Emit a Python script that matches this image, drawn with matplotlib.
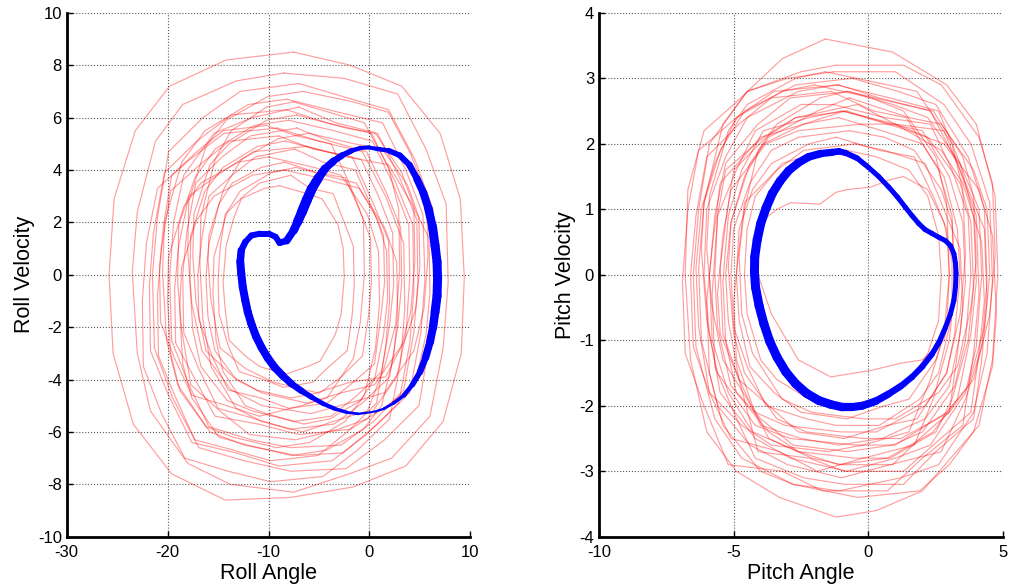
import numpy as np
import matplotlib
matplotlib.use('Agg')
import matplotlib.pyplot as plt
from matplotlib.collections import LineCollection

plt.rcParams['font.family'] = ['Liberation Sans', 'DejaVu Sans']
plt.rcParams['axes.unicode_minus'] = False

# roll: red trajectory loops (clockwise from the top)
roll_red_x = [
    [-7.5, -1.9, 3.2, 7.0, 9.0, 9.4, 9.1, 7.3, 3.6, -1.6, -7.8, -14.3, -19.6, -23.4, -25.4, -25.8, -25.3, -23.2, -19.8, -14.2],
    [-8.5, -2.5, 2.8, 5.6, 7.6, 7.8, 7.3, 6.0, 2.2, -2.0, -7.5, -13.8, -18.0, -21.7, -23.0, -23.5, -23.0, -21.2, -18.5, -13.2],
    [-7.0, -2.6, 1.9, 4.5, 6.3, 6.5, 6.0, 4.9, 1.5, -2.3, -7.8, -12.4, -16.9, -19.5, -21.3, -21.5, -21.0, -19.9, -16.5, -12.8],
    [-8.2, -3.0, 1.3, 3.6, 5.3, 5.5, 5.1, 4.0, 0.8, -2.6, -7.2, -12.4, -15.8, -19.0, -20.1, -20.5, -20.3, -18.6, -16.3, -12.0],
    [-7.0, -3.3, 0.8, 3.0, 4.7, 4.8, 4.4, 3.4, 0.4, -2.8, -7.8, -11.7, -15.9, -18.0, -19.6, -19.8, -19.4, -18.4, -15.4, -11.6],
    [-8.0, -3.5, 0.3, 2.3, 3.9, 4.0, 3.6, 2.7, -0.2, -3.1, -7.3, -11.9, -14.8, -17.7, -18.6, -19.0, -18.9, -17.3, -15.3, -11.4],
    [-7.2, -3.9, -0.3, 1.6, 3.1, 3.2, 2.8, 2.0, -0.7, -3.5, -7.9, -11.3, -15.0, -16.9, -18.4, -18.5, -18.1, -17.2, -14.6, -11.8],
    [-8.3, -4.2, -0.8, 0.9, 2.3, 2.4, 2.0, 1.2, -1.2, -3.8, -7.5, -11.6, -14.1, -16.7, -17.5, -17.8, -17.7, -16.3, -14.5, -11.1],
    [-7.4, -4.6, -1.4, 0.1, 1.4, 1.5, 1.1, 0.5, -1.9, -4.2, -8.0, -10.8, -14.0, -15.6, -16.9, -17.0, -16.6, -15.9, -13.6, -11.3],
    [-8.4, -5.2, -2.4, -1.0, 0.1, 0.2, -0.1, -0.7, -2.8, -4.9, -7.8, -11.2, -13.2, -15.3, -16.0, -16.2, -15.9, -14.9, -13.6, -10.7],
    [-7.8, -5.9, -3.6, -2.5, -1.6, -1.5, -1.7, -2.2, -4.0, -5.6, -8.5, -10.5, -12.9, -14.0, -14.9, -15.0, -14.8, -14.3, -12.5, -10.9],
    [-8.9, -6.2, -4.7, -3.1, -2.6, -2.5, -2.8, -3.4, -4.9, -6.1, -8.3, -10.9, -12.3, -13.9, -14.3, -14.5, -14.2, -13.5, -12.7, -10.4],
    [-9.0, -5.6, -1.7, 0.3, 1.9, 2.0, 1.6, 0.7, -2.2, -5.1, -9.8, -13.4, -17.3, -19.3, -20.9, -21.0, -20.6, -19.7, -16.8, -13.9],
    [-6.6, -1.6, 1.9, 4.1, 5.7, 5.8, 5.4, 4.4, 1.5, -2.0, -5.8, -10.6, -13.7, -16.6, -17.6, -18.0, -17.9, -16.2, -14.2, -10.1],
    [-10.0, -5.5, -2.8, -0.2, 0.9, 1.0, 0.6, -0.5, -2.4, -5.9, -9.2, -13.5, -16.2, -18.8, -19.7, -20.0, -19.9, -18.4, -16.7, -13.0],
    [-7.2, -2.3, 0.6, 3.2, 4.4, 4.5, 4.1, 3.2, 0.5, -2.7, -6.2, -10.7, -13.5, -16.2, -17.2, -17.5, -17.4, -15.8, -13.9, -10.2],
    [-9.1, -5.0, -0.7, 1.6, 3.4, 3.5, 3.1, 2.0, -1.2, -4.6, -9.8, -14.0, -18.3, -20.6, -22.4, -22.5, -22.1, -21.0, -17.8, -14.4],
    [-6.2, -2.3, 1.9, 4.2, 5.9, 6.0, 5.6, 4.5, 1.4, -1.9, -7.0, -11.0, -15.3, -17.4, -19.2, -19.3, -18.9, -17.9, -14.7, -11.5],
    [-7.5, -3.1, -0.5, 1.9, 2.9, 3.0, 2.6, 1.5, -0.2, -3.6, -6.6, -10.7, -13.2, -15.7, -16.5, -16.8, -16.7, -15.3, -13.7, -10.2],
    [-10.2, -7.2, -3.8, -2.0, -0.6, -0.5, -0.9, -1.6, -4.2, -6.8, -10.9, -14.1, -17.6, -19.3, -20.7, -20.8, -20.4, -19.6, -17.1, -14.5],
    [-8.4, -3.9, -1.0, 1.5, 2.7, 2.8, 2.4, 1.2, -0.6, -4.3, -7.7, -12.1, -14.9, -17.6, -18.5, -18.8, -18.6, -17.1, -15.4, -11.6],
    [-6.0, -1.5, 1.3, 3.8, 4.9, 5.0, 4.6, 3.5, 1.6, -1.9, -5.2, -9.5, -12.2, -14.8, -15.7, -16.0, -15.9, -14.4, -12.7, -9.0],
    [-8.2, -4.2, 0.2, 2.5, 4.3, 4.4, 4.0, 2.9, -0.3, -3.7, -9.0, -13.2, -17.6, -19.9, -21.7, -21.8, -21.4, -20.3, -17.1, -13.7],
    [-7.3, -3.5, -1.3, 0.8, 1.7, 1.8, 1.4, 0.5, -0.9, -3.9, -6.5, -10.2, -12.3, -14.5, -15.2, -15.5, -15.4, -14.1, -12.8, -9.7],
]
roll_red_y = [
    [8.5, 8.0, 7.2, 5.4, 2.9, -0.1, -3.0, -5.6, -7.3, -8.1, -8.5, -8.6, -7.6, -5.7, -3.0, 0.0, 2.9, 5.5, 7.2, 8.2],
    [7.7, 7.5, 6.9, 4.8, 2.7, -0.3, -2.8, -5.4, -7.0, -7.6, -8.3, -8.0, -7.2, -5.2, -3.0, 0.1, 2.4, 5.1, 6.5, 7.4],
    [7.3, 6.8, 6.3, 4.4, 2.5, -0.3, -2.5, -5.0, -6.3, -7.4, -7.5, -7.1, -6.6, -4.7, -2.8, 0.0, 2.2, 4.7, 6.0, 7.0],
    [6.7, 6.2, 5.8, 4.0, 2.3, -0.2, -2.2, -4.5, -5.7, -6.8, -6.9, -6.5, -6.0, -4.2, -2.5, 0.1, 2.0, 4.3, 5.5, 6.5],
    [6.4, 5.8, 5.4, 3.7, 2.1, -0.3, -2.2, -4.4, -5.6, -6.5, -6.6, -6.3, -5.8, -4.1, -2.5, -0.1, 2.0, 3.8, 5.4, 6.0],
    [5.9, 5.5, 5.1, 3.5, 1.9, -0.1, -2.3, -3.9, -5.5, -5.9, -6.3, -6.1, -5.2, -4.2, -2.1, -0.3, 1.9, 3.7, 4.8, 5.7],
    [5.6, 5.1, 4.7, 3.2, 1.8, -0.3, -2.0, -3.9, -4.9, -5.7, -5.9, -5.5, -5.1, -3.6, -2.2, 0.0, 1.6, 3.5, 4.5, 5.3],
    [5.1, 4.7, 4.4, 3.0, 1.6, -0.4, -1.9, -3.7, -4.6, -5.4, -5.6, -5.2, -4.8, -3.5, -2.1, -0.2, 1.5, 3.2, 4.1, 4.9],
    [4.8, 4.3, 4.0, 2.7, 1.5, -0.3, -1.7, -3.4, -4.2, -4.9, -5.1, -4.7, -4.4, -3.1, -1.7, 0.0, 1.4, 3.0, 3.8, 4.5],
    [4.3, 3.9, 3.7, 2.5, 1.4, -0.3, -1.6, -3.1, -3.9, -4.5, -4.7, -4.4, -4.0, -2.9, -1.6, -0.1, 1.2, 2.7, 3.5, 4.1],
    [3.8, 3.3, 3.1, 2.0, 1.1, -0.4, -1.5, -2.9, -3.5, -4.1, -4.3, -4.0, -3.7, -2.7, -1.5, -0.2, 1.0, 2.3, 3.0, 3.5],
    [3.4, 3.1, 2.9, 1.9, 1.0, -0.1, -1.5, -2.3, -3.3, -3.5, -3.8, -3.5, -3.1, -2.5, -1.3, -0.3, 1.1, 2.1, 2.9, 3.3],
    [5.3, 4.8, 4.5, 2.8, 1.3, -1.0, -2.8, -4.9, -6.0, -6.9, -7.1, -6.7, -6.3, -4.6, -3.1, -0.8, 1.0, 3.2, 4.2, 5.1],
    [7.0, 6.6, 6.2, 4.6, 3.0, 0.7, -1.3, -2.9, -4.5, -4.9, -5.3, -5.0, -4.4, -2.9, -1.1, 0.9, 2.8, 4.9, 5.9, 6.8],
    [4.5, 4.1, 3.8, 2.3, 0.9, -1.1, -2.8, -4.6, -5.6, -6.4, -6.6, -6.2, -5.8, -4.4, -3.0, -1.0, 0.7, 2.6, 3.5, 4.3],
    [6.1, 5.6, 5.4, 3.9, 2.6, 0.5, -1.4, -2.7, -4.2, -4.5, -4.9, -4.5, -3.9, -2.9, -1.0, 0.7, 2.3, 4.2, 5.0, 5.9],
    [5.6, 5.1, 4.7, 3.0, 1.2, -1.3, -3.3, -5.5, -6.7, -7.7, -7.9, -7.5, -7.0, -5.3, -3.5, -1.0, 1.2, 3.3, 4.4, 5.4],
    [4.9, 4.5, 4.2, 2.7, 1.4, -0.7, -2.3, -4.2, -5.1, -5.9, -6.1, -5.7, -5.4, -3.9, -2.6, -0.5, 1.1, 3.0, 3.9, 4.7],
    [6.6, 6.1, 5.8, 4.1, 2.5, 0.2, -1.9, -3.5, -5.2, -5.6, -6.0, -5.6, -5.1, -3.5, -1.7, 0.4, 2.2, 4.4, 5.5, 6.4],
    [5.7, 5.3, 5.0, 3.5, 2.1, 0.0, -1.8, -3.2, -4.7, -5.0, -5.4, -5.0, -4.6, -3.2, -1.8, 0.3, 1.9, 3.8, 4.7, 5.5],
    [4.0, 3.6, 3.3, 1.8, 0.5, -1.5, -3.1, -5.0, -5.9, -6.7, -6.9, -6.5, -6.2, -4.7, -3.4, -1.3, 0.3, 2.1, 3.0, 3.8],
    [5.4, 5.0, 4.8, 3.4, 2.2, 0.3, -1.3, -2.5, -3.9, -4.1, -4.5, -4.1, -3.6, -2.8, -1.0, 0.6, 1.5, 3.3, 4.4, 5.2],
    [6.3, 5.8, 5.4, 3.6, 1.9, -0.6, -2.6, -4.9, -6.1, -7.1, -7.3, -6.8, -6.4, -4.6, -2.9, -0.4, 1.6, 3.9, 5.1, 6.1],
    [4.1, 3.7, 3.5, 2.1, 0.9, -0.9, -2.3, -4.0, -4.8, -5.5, -5.7, -5.3, -5.0, -3.7, -2.5, -0.7, 0.7, 2.4, 3.2, 3.9],
]

# roll: blue limit cycle
roll_blue_x = [-0.9, -0.1, 0.7, 1.9, 3.0, 3.95, 4.7, 5.35, 5.85, 6.25, 6.5, 6.7, 6.75, 6.7, 6.5, 6.3, 6.0, 5.55,
               5.0, 4.25, 3.4, 2.4, 1.4, 0.55, -0.3, -1.1, -2.25, -3.4, -4.55, -5.7, -6.7, -7.7, -8.55, -9.4,
               -10.08, -10.7, -11.25, -11.7, -12.05, -12.3, -12.55, -12.7, -12.8, -12.7, -12.3, -11.7, -10.85,
               -10.0, -9.3, -8.9, -8.2, -7.5, -7.1, -6.7, -6.2, -5.7, -5.05, -4.4, -3.55, -2.7, -1.8, -0.9]
roll_blue_y = [4.84, 4.86, 4.81, 4.74, 4.56, 4.2, 3.67, 3.12, 2.52, 1.83, 1.12, 0.49, -0.15, -0.8, -1.43, -2.0,
               -2.57, -3.17, -3.72, -4.2, -4.61, -4.9, -5.12, -5.22, -5.27, -5.31, -5.25, -5.12, -4.93, -4.68,
               -4.44, -4.17, -3.87, -3.53, -3.17, -2.77, -2.34, -1.87, -1.43, -0.98, -0.47, 0.04, 0.5, 0.93, 1.25,
               1.5, 1.57, 1.57, 1.45, 1.22, 1.3, 1.7, 2.03, 2.39, 2.86, 3.29, 3.7, 4.05, 4.34, 4.56, 4.73, 4.84]

# pitch: red trajectory loops
pitch_red_x = [
    [-1.6, 0.9, 2.9, 4.0, 4.7, 4.8, 4.6, 4.1, 2.0, 0.3, -1.2, -3.3, -4.9, -6.0, -6.6, -6.8, -6.7, -6.1, -5.0, -3.2],
    [-1.3, 1.0, 2.8, 3.8, 4.5, 4.6, 4.4, 3.9, 2.6, 1.2, -1.1, -2.8, -4.7, -5.7, -6.4, -6.5, -6.3, -5.9, -4.5, -3.0],
    [-0.6, 1.1, 2.5, 3.7, 4.3, 4.4, 4.2, 3.6, 2.7, 0.8, -1.0, -3.0, -4.4, -5.6, -6.2, -6.3, -6.1, -5.5, -4.6, -2.7],
    [-1.2, 0.8, 2.6, 3.4, 4.1, 4.2, 4.0, 3.6, 2.3, 1.0, -0.8, -2.9, -4.2, -5.5, -5.9, -6.1, -6.0, -5.3, -4.5, -2.6],
    [-0.7, 0.9, 2.2, 3.4, 3.9, 4.0, 3.8, 3.3, 2.4, 0.7, -1.1, -2.6, -4.3, -5.2, -5.8, -5.9, -5.7, -5.3, -4.1, -2.9],
    [-1.3, 0.6, 2.3, 3.1, 3.7, 3.8, 3.6, 3.2, 2.0, 0.9, -0.8, -2.8, -4.0, -5.1, -5.6, -5.7, -5.6, -4.9, -4.2, -2.5],
    [-0.8, 0.8, 2.0, 3.0, 3.5, 3.6, 3.4, 3.0, 2.1, 0.5, -1.1, -2.5, -4.0, -4.8, -5.4, -5.5, -5.3, -5.0, -3.8, -2.7],
    [-1.1, 0.5, 2.0, 2.8, 3.3, 3.4, 3.2, 2.9, 1.8, 0.7, -0.9, -2.6, -3.7, -4.8, -5.2, -5.3, -5.1, -4.6, -3.9, -2.4],
    [-0.7, 0.6, 1.7, 2.7, 3.1, 3.2, 3.0, 2.6, 1.9, 0.4, -1.2, -2.3, -3.8, -4.5, -5.0, -5.1, -5.0, -4.4, -3.6, -2.6],
    [-1.2, 0.4, 1.7, 2.4, 2.9, 3.0, 2.9, 2.5, 1.5, 0.6, -0.8, -2.5, -3.5, -4.4, -4.8, -4.9, -4.8, -4.3, -3.6, -2.2],
    [-0.8, 0.3, 1.5, 2.2, 2.6, 2.7, 2.6, 2.2, 1.4, 0.5, -1.1, -2.2, -3.4, -4.0, -4.5, -4.6, -4.5, -4.2, -3.2, -2.4],
    [-0.8, 0.1, 0.7, 1.3, 2.2, 2.8, 3.1, 3.1, 2.8, 2.0, 1.2, 0.1, -1.4, -2.6, -3.6, -4.1, -4.3, -4.0, -3.4, -2.9, -1.8, -1.2],
    [-1.6, 0.7, 1.8, 3.1, 3.5, 3.6, 3.4, 2.9, 2.1, 0.3, -1.0, -3.1, -4.2, -5.4, -5.8, -6.0, -5.9, -5.2, -4.5, -2.7],
    [-0.3, 1.0, 2.7, 3.5, 4.2, 4.3, 4.1, 3.8, 2.4, 1.3, -0.9, -2.2, -4.1, -4.8, -5.5, -5.6, -5.4, -5.1, -3.8, -2.6],
    [-1.4, 0.2, 1.4, 2.6, 3.1, 3.2, 3.0, 2.4, 1.7, -0.2, -1.9, -3.3, -5.1, -5.9, -6.5, -6.6, -6.4, -6.0, -4.8, -3.6],
    [-0.7, 1.5, 2.7, 3.9, 4.4, 4.5, 4.3, 3.7, 3.0, 1.2, -0.2, -2.3, -3.4, -4.6, -5.0, -5.2, -5.1, -4.4, -3.7, -1.9],
    [-1.1, 0.4, 2.3, 3.3, 4.0, 4.1, 3.9, 3.5, 2.0, 0.7, -1.7, -3.2, -5.2, -6.1, -6.8, -6.9, -6.7, -6.3, -4.9, -3.5],
    [-1.0, 1.0, 2.2, 3.4, 3.8, 3.9, 3.7, 3.1, 2.5, 0.8, -0.5, -2.6, -3.7, -4.9, -5.3, -5.4, -5.2, -4.7, -3.9, -2.2],
    [-1.2, 1.3, 2.7, 4.1, 4.6, 4.7, 4.5, 3.9, 2.9, 1.0, -0.5, -2.9, -4.2, -5.6, -6.0, -6.2, -6.1, -5.4, -4.5, -2.5],
    [-0.5, 0.6, 2.1, 2.8, 3.4, 3.5, 3.3, 3.0, 1.9, 0.9, -1.0, -2.1, -3.7, -4.3, -4.9, -5.0, -4.8, -4.6, -3.4, -2.4],
    [-2.0, 0.1, 1.3, 2.5, 2.9, 3.0, 2.8, 2.3, 1.5, -0.2, -1.5, -3.6, -4.7, -5.9, -6.3, -6.4, -6.2, -5.7, -4.9, -3.2],
    [-0.4, 1.0, 2.8, 3.6, 4.3, 4.4, 4.2, 3.9, 2.5, 1.3, -0.9, -2.4, -4.2, -5.0, -5.7, -5.8, -5.6, -5.3, -3.9, -2.7],
    [-0.8, 1.3, 2.4, 3.5, 3.9, 4.0, 3.8, 3.3, 2.6, 1.0, -0.2, -2.1, -3.2, -4.3, -4.7, -4.8, -4.6, -4.1, -3.4, -1.8],
    [-0.9, 1.5, 2.8, 4.1, 4.6, 4.75, 4.6, 3.9, 3.0, 1.9, -0.4, -2.8, -4.0, -5.4, -5.9, -6.0, -5.8, -5.5, -4.0, -2.4],
]
pitch_red_y = [
    [3.6, 3.4, 2.9, 2.3, 1.2, 0.0, -1.3, -2.3, -3.3, -3.6, -3.7, -3.4, -3.0, -2.4, -1.3, 0.0, 1.3, 2.2, 2.6, 3.3],
    [3.1, 3.1, 2.6, 2.0, 1.1, -0.1, -1.2, -2.1, -2.9, -3.1, -3.3, -3.2, -2.8, -2.2, -1.1, 0.0, 1.0, 2.0, 2.8, 3.0],
    [3.0, 2.8, 2.6, 1.8, 1.0, -0.1, -1.1, -1.9, -2.7, -2.9, -3.1, -2.9, -2.6, -2.0, -1.0, 0.1, 1.1, 1.9, 2.5, 2.9],
    [2.9, 2.7, 2.5, 1.7, 1.0, 0.0, -1.1, -1.8, -2.6, -2.8, -3.0, -2.8, -2.5, -1.8, -0.9, 0.0, 1.0, 1.8, 2.4, 2.8],
    [2.8, 2.6, 2.4, 1.7, 0.9, -0.1, -0.9, -1.9, -2.4, -2.8, -2.9, -2.7, -2.4, -1.8, -1.0, 0.0, 0.9, 1.7, 2.3, 2.7],
    [2.6, 2.4, 2.3, 1.6, 0.9, 0.0, -1.0, -1.7, -2.4, -2.6, -2.7, -2.6, -2.2, -1.7, -0.8, 0.0, 0.9, 1.6, 2.2, 2.6],
    [2.5, 2.3, 2.2, 1.5, 0.8, -0.1, -0.9, -1.7, -2.2, -2.5, -2.6, -2.5, -2.3, -1.6, -0.9, 0.1, 0.8, 1.6, 2.1, 2.4],
    [2.4, 2.2, 2.0, 1.5, 0.7, 0.0, -0.9, -1.5, -2.2, -2.3, -2.5, -2.4, -2.0, -1.6, -0.7, 0.0, 0.8, 1.5, 2.0, 2.3],
    [2.2, 2.1, 1.9, 1.3, 0.8, -0.1, -0.8, -1.5, -1.9, -2.3, -2.3, -2.2, -2.0, -1.4, -0.8, 0.0, 0.7, 1.4, 1.9, 2.1],
    [2.1, 1.9, 1.8, 1.2, 0.7, 0.0, -0.8, -1.3, -1.9, -2.0, -2.2, -2.1, -1.8, -1.4, -0.7, 0.0, 0.7, 1.3, 1.7, 2.0],
    [1.9, 1.8, 1.6, 1.2, 0.6, 0.0, -0.7, -1.2, -1.7, -1.9, -2.0, -1.9, -1.6, -1.3, -0.6, 0.0, 0.7, 1.2, 1.7, 1.8],
    [1.3, 1.34, 1.44, 1.5, 1.3, 0.8, 0.2, -0.5, -1.0, -1.3, -1.35, -1.46, -1.56, -1.3, -0.6, 0.0, 0.4, 0.8, 1.0, 1.1, 1.08, 1.26],
    [3.1, 2.9, 2.8, 2.0, 1.3, 0.3, -0.6, -1.5, -2.0, -2.4, -2.4, -2.3, -2.1, -1.3, -0.5, 0.4, 1.2, 2.2, 2.6, 3.0],
    [2.3, 2.3, 1.9, 1.4, 0.5, -0.4, -1.2, -2.1, -2.6, -3.0, -3.0, -2.8, -2.7, -1.6, -0.9, -0.3, 0.6, 1.3, 2.0, 2.2],
    [2.8, 2.5, 2.4, 1.6, 0.9, -0.2, -1.0, -1.9, -2.6, -2.8, -3.0, -2.7, -2.5, -1.8, -1.1, 0.0, 0.9, 1.8, 2.3, 2.7],
    [2.7, 2.4, 2.3, 1.6, 1.0, 0.0, -0.8, -1.7, -2.1, -2.5, -2.5, -2.4, -2.2, -1.5, -0.9, 0.1, 0.8, 1.7, 2.1, 2.5],
    [2.9, 2.7, 2.5, 1.7, 0.9, -0.3, -1.2, -2.3, -2.8, -3.3, -3.3, -3.0, -2.9, -2.0, -1.2, -0.1, 1.0, 1.9, 2.4, 2.8],
    [2.5, 2.3, 2.1, 1.4, 0.8, -0.2, -1.0, -1.9, -2.4, -2.8, -2.8, -2.7, -2.4, -1.8, -1.0, -0.1, 0.9, 1.6, 2.2, 2.4],
    [3.2, 3.2, 2.9, 2.1, 1.4, 0.3, -0.6, -1.6, -2.1, -2.6, -2.6, -2.5, -2.3, -1.5, -0.7, 0.4, 1.1, 2.3, 2.8, 3.1],
    [2.0, 1.9, 1.7, 1.0, 0.4, -0.5, -1.2, -2.1, -2.5, -2.9, -2.9, -2.8, -2.5, -2.0, -1.3, -0.4, 0.4, 1.1, 1.6, 1.9],
    [2.9, 2.7, 2.5, 1.8, 1.1, 0.0, -0.9, -1.6, -2.4, -2.6, -2.7, -2.6, -2.3, -1.8, -0.8, 0.1, 1.0, 1.7, 2.4, 2.8],
    [2.6, 2.3, 2.2, 1.4, 0.7, -0.4, -1.3, -2.2, -2.7, -3.2, -3.2, -3.1, -2.8, -2.1, -1.4, -0.3, 0.9, 1.6, 2.1, 2.4],
    [2.8, 2.6, 2.5, 1.8, 1.2, 0.2, -0.5, -1.4, -1.8, -2.2, -2.2, -2.1, -1.9, -1.2, -0.6, 0.3, 1.0, 1.9, 2.3, 2.7],
    [2.5, 2.2, 2.0, 1.3, 0.6, -0.6, -1.4, -2.4, -2.9, -3.3, -3.4, -3.2, -3.0, -2.3, -1.5, -0.4, 0.4, 1.4, 2.1, 2.3],
]

# pitch: blue limit cycle
pitch_blue_x = [-1.35, -1.1, -0.85, -0.42, 0.0, 0.38, 0.75, 1.07, 1.37, 1.62, 1.87, 2.1, 2.36, 2.62, 2.86, 3.05,
                3.17, 3.23, 3.25, 3.23, 3.17, 3.04, 2.86, 2.63, 2.36, 2.0, 1.62, 1.2, 0.75, 0.27, -0.23, -0.6,
                -0.98, -1.4, -1.84, -2.3, -2.71, -3.07, -3.39, -3.66, -3.88, -4.06, -4.19, -4.23, -4.22, -4.13,
                -4.0, -3.8, -3.57, -3.28, -2.96, -2.6, -2.22, -1.78, -1.35]
pitch_blue_y = [1.87, 1.885, 1.86, 1.78, 1.64, 1.5, 1.34, 1.19, 1.03, 0.9, 0.78, 0.69, 0.63, 0.57, 0.52, 0.44,
                0.32, 0.17, 0.02, -0.18, -0.39, -0.6, -0.8, -1.02, -1.21, -1.4, -1.56, -1.7, -1.82, -1.93, -2.0,
                -2.02, -2.02, -1.98, -1.92, -1.81, -1.66, -1.48, -1.26, -1.02, -0.75, -0.47, -0.19, 0.04, 0.27,
                0.53, 0.78, 1.02, 1.24, 1.43, 1.59, 1.71, 1.8, 1.85, 1.87]

# band thickness of the blue cycles at each point, pixels
roll_band_px = [4, 4, 4, 5, 6, 6, 7, 8, 8, 9, 9, 9, 9, 9, 9, 8, 8, 7, 6, 5, 4, 3, 2.5, 2, 2, 2.5, 3, 4,
                4.5, 5, 6, 7, 7.5, 8, 8, 8, 8, 8, 8, 8, 8, 8, 8, 7, 6, 6, 6, 6, 6, 6, 7, 8, 9, 10, 10, 10,
                9, 8, 7, 6, 5, 4]
pitch_band_px = [7, 6.5, 6, 5.5, 5, 5, 5, 5, 5, 5, 5, 5, 5, 5, 5, 5, 5, 5, 5, 5, 5, 5, 5, 5.5, 5.5, 6, 6,
                 6.5, 7, 7.5, 8, 8, 8.5, 8.5, 9, 9, 9, 9, 9, 9, 9, 9, 9, 9, 9, 9, 9, 9, 9, 8.5, 8.5, 8, 8,
                 7.5, 7]


def draw_panel(ax, red_x, red_y, bx, by, band, xlim, ylim, xticks, yticks, xlabel, ylabel):
    for xs, ys in zip(red_x, red_y):
        ax.plot(xs + xs[:1], ys + ys[:1], color='red', lw=0.85, alpha=0.38)
    pts = np.column_stack([bx, by])
    segs = np.stack([pts[:-1], pts[1:]], axis=1)
    w = np.array(band, dtype=float)
    seg_w = (w[:-1] + w[1:]) / 2 * 0.72
    lc = LineCollection(segs, colors='blue', linewidths=seg_w,
                        capstyle='round', joinstyle='round', zorder=3)
    ax.add_collection(lc)
    ax.set_xlim(xlim)
    ax.set_ylim(ylim)
    ax.set_xticks(xticks)
    ax.set_yticks(yticks)
    ax.set_axisbelow(True)
    ax.grid(True, linestyle=':', color='0.35', lw=0.8)
    for s in ['top', 'right']:
        ax.spines[s].set_visible(False)
    for s in ['left', 'bottom']:
        ax.spines[s].set_linewidth(2)
    ax.tick_params(direction='in', length=4, width=1, labelsize=12)
    ax.tick_params(axis='x', pad=6)
    ax.set_xlabel(xlabel, fontsize=15.5, labelpad=2)
    ax.set_ylabel(ylabel, fontsize=15.5, labelpad=2)


fig = plt.figure(figsize=(10.1, 5.88), dpi=100)
ax1 = fig.add_axes([0.066, 0.0872, 0.3997, 0.891])
ax2 = fig.add_axes([0.593, 0.0872, 0.4003, 0.891])

draw_panel(ax1, roll_red_x, roll_red_y, roll_blue_x, roll_blue_y, roll_band_px,
           (-30, 10), (-10, 10), range(-30, 11, 10), range(-10, 11, 2), 'Roll Angle', 'Roll Velocity')
draw_panel(ax2, pitch_red_x, pitch_red_y, pitch_blue_x, pitch_blue_y, pitch_band_px,
           (-10, 5), (-4, 4), range(-10, 6, 5), range(-4, 5, 1), 'Pitch Angle', 'Pitch Velocity')

fig.savefig('out.png', dpi=100)
